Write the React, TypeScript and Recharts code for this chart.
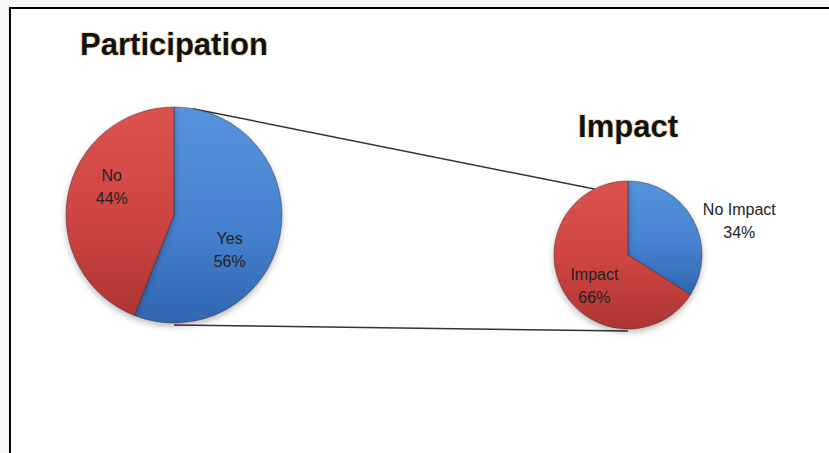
import React from "react";
import { Cell, Pie, PieChart } from "recharts";

// participation split
const participationNames = ["Yes", "No"];
const participationValues = [56, 44];

// impact among participants
const impactNames = ["No Impact", "Impact"];
const impactValues = [34, 66];

const W = 829;
const H = 453;

const BIG = { cx: 174, cy: 215, r: 108 };
const SMALL = { cx: 628, cy: 255, r: 74 };

// label placement per slice: angle shift from the mid angle (deg), radius as share of r
const BIG_LABELS = { shift: [-20, -15], radius: [0.6, 0.64] };
const SMALL_LABELS = { shift: [-11, 12], radius: [1.58, 0.6] };

const RADIAN = Math.PI / 180;
const FONT = "'Liberation Sans', Arial, sans-serif";

const toRows = (names: string[], values: number[]) =>
  names.map((name, i) => ({ name, value: values[i] }));

const participation = toRows(participationNames, participationValues);
const impact = toRows(impactNames, impactValues);

function makeLabel(cfg: { shift: number[]; radius: number[] }) {
  return (props: any) => {
    const { cx, cy, midAngle, outerRadius, index, name, value } = props;
    const a = (midAngle + cfg.shift[index]) * RADIAN;
    const rr = outerRadius * cfg.radius[index];
    const x = cx + rr * Math.cos(-a);
    const y = cy + rr * Math.sin(-a);
    return (
      <text
        x={x}
        y={y}
        textAnchor="middle"
        fontFamily={FONT}
        fontSize={16}
        fill="#222"
      >
        <tspan x={x} dy={-4}>
          {name}
        </tspan>
        <tspan x={x} dy={23}>
          {value}%
        </tspan>
      </text>
    );
  };
}

function pointOn(p: { cx: number; cy: number; r: number }, deg: number) {
  return {
    x: p.cx + p.r * Math.cos(-deg * RADIAN),
    y: p.cy + p.r * Math.sin(-deg * RADIAN),
  };
}

function Connectors() {
  const a1 = pointOn(BIG, 80);
  const b1 = pointOn(SMALL, 117);
  const a2 = pointOn(BIG, -90);
  const b2 = pointOn(SMALL, -90);
  return (
    <svg
      width={W}
      height={H}
      style={{ position: "absolute", left: 0, top: 0 }}
    >
      <line x1={a1.x} y1={a1.y} x2={b1.x} y2={b1.y} stroke="#333" strokeWidth={1.5} />
      <line x1={a2.x} y1={a2.y + 2} x2={b2.x} y2={b2.y + 2} stroke="#333" strokeWidth={1.5} />
      <text
        x={BIG.cx}
        y={55}
        textAnchor="middle"
        fontFamily={FONT}
        fontWeight="bold"
        fontSize={31}
        fill="#111"
        style={{ paintOrder: "stroke" }}
        stroke="rgba(240,200,120,0.5)"
        strokeWidth={2}
      >
        Participation
      </text>
      <text
        x={SMALL.cx}
        y={137}
        textAnchor="middle"
        fontFamily={FONT}
        fontWeight="bold"
        fontSize={31}
        fill="#111"
        style={{ paintOrder: "stroke" }}
        stroke="rgba(240,200,120,0.5)"
        strokeWidth={2}
      >
        Impact
      </text>
    </svg>
  );
}

export default function App() {
  return (
    <div
      style={{
        position: "absolute",
        left: 0,
        top: 0,
        width: W,
        height: H,
        background: "#f7f7f7",
        overflow: "hidden",
      }}
    >
      <style>{`.recharts-pie-sector { filter: drop-shadow(0 3px 3px rgba(0,0,0,0.28)); }`}</style>
      <div
        style={{
          position: "absolute",
          left: 9,
          top: 7,
          right: 0,
          bottom: 0,
          background: "#fff",
          borderLeft: "2px solid #000",
          borderTop: "2px solid #000",
          boxShadow: "0 1px 1px rgba(0,0,0,0.25)",
        }}
      />
      <Connectors />
      <div style={{ position: "absolute", left: 0, top: 0 }}>
        <PieChart width={W} height={H} margin={{ top: 0, right: 0, bottom: 0, left: 0 }}>
          <defs>
            <linearGradient id="blueFill" x1="0" y1="0" x2="0" y2="1">
              <stop offset="0%" stopColor="#5693dc" />
              <stop offset="55%" stopColor="#4682d0" />
              <stop offset="100%" stopColor="#3166b0" />
            </linearGradient>
            <linearGradient id="redFill" x1="0" y1="0" x2="0" y2="1">
              <stop offset="0%" stopColor="#dc524f" />
              <stop offset="55%" stopColor="#cd4441" />
              <stop offset="100%" stopColor="#ad3532" />
            </linearGradient>
          </defs>
          <Pie
            data={participation}
            dataKey="value"
            nameKey="name"
            cx={BIG.cx}
            cy={BIG.cy}
            outerRadius={BIG.r}
            startAngle={90}
            endAngle={-270}
            stroke="rgba(60,30,30,0.45)"
            strokeWidth={1}
            labelLine={false}
            label={makeLabel(BIG_LABELS)}
            isAnimationActive={false}
          >
            <Cell fill="url(#blueFill)" />
            <Cell fill="url(#redFill)" />
          </Pie>
          <Pie
            data={impact}
            dataKey="value"
            nameKey="name"
            cx={SMALL.cx}
            cy={SMALL.cy}
            outerRadius={SMALL.r}
            startAngle={90}
            endAngle={-270}
            stroke="rgba(60,30,30,0.45)"
            strokeWidth={1}
            labelLine={false}
            label={makeLabel(SMALL_LABELS)}
            isAnimationActive={false}
          >
            <Cell fill="url(#blueFill)" />
            <Cell fill="url(#redFill)" />
          </Pie>
        </PieChart>
      </div>
    </div>
  );
}
